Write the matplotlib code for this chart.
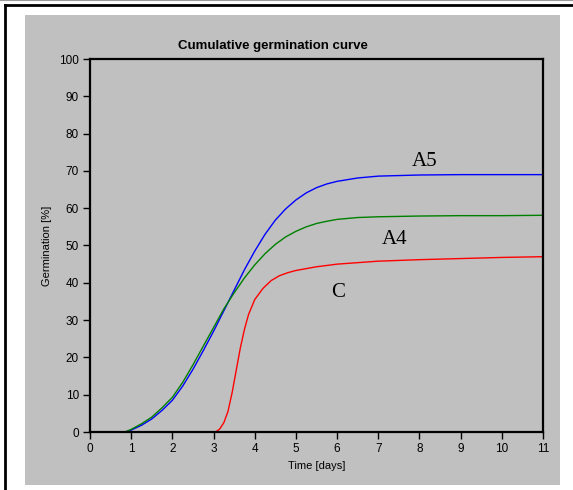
import matplotlib
matplotlib.use("Agg")
import matplotlib.pyplot as plt
from matplotlib.patches import Rectangle
from matplotlib.lines import Line2D

# data
days_a = [0.85, 1.0, 1.25, 1.5, 1.75, 2.0, 2.25, 2.5, 2.75, 3.0, 3.25, 3.5, 3.75, 4.0,
          4.25, 4.5, 4.75, 5.0, 5.25, 5.5, 5.75, 6.0, 6.5, 7.0, 8.0, 9.0, 10.0, 11.0]
a5 = [0, 0.5, 1.8, 3.5, 5.8, 8.5, 12.3, 16.8, 21.8, 27, 32.5, 38, 43.5, 48.5,
      53, 56.8, 59.8, 62.2, 64.1, 65.5, 66.5, 67.2, 68.1, 68.6, 68.9, 69, 69, 69]
a4 = [0, 0.7, 2.2, 4, 6.5, 9.3, 13.3, 18, 23, 28, 33, 37.3, 41.3, 44.8,
      47.8, 50.3, 52.3, 53.8, 55, 55.9, 56.5, 57, 57.5, 57.7, 57.9, 58, 58, 58.1]

days_c = [3.05, 3.15, 3.25, 3.35, 3.45, 3.55, 3.65, 3.75, 3.85, 4.0, 4.2, 4.4, 4.6, 4.8,
          5.0, 5.5, 6.0, 7.0, 8.0, 9.0, 10.0, 11.0]
c = [0, 0.8, 2.5, 5.5, 10.5, 16.5, 22.5, 27.5, 31.5, 35.5, 38.5, 40.6, 41.9, 42.7,
     43.3, 44.3, 45, 45.8, 46.2, 46.5, 46.8, 47]

x_ticks = list(range(0, 12))
y_ticks = list(range(0, 101, 10))

plt.rcParams['font.family'] = ['Liberation Sans', 'DejaVu Sans']

W, H = 573, 490
fig = plt.figure(figsize=(W / 100, H / 100), dpi=100, facecolor='white')

# grey panel and outer frame
fig.patches.append(Rectangle((25 / W, 1 - 485 / H), 535 / W, 470 / H,
                             transform=fig.transFigure, facecolor='#c0c0c0',
                             edgecolor='none', zorder=-10))
fig.lines.append(Line2D([5 / W, 1], [1 - 5 / H, 1 - 5 / H], transform=fig.transFigure,
                        color='black', lw=2))
fig.lines.append(Line2D([5 / W, 5 / W], [0, 1 - 5 / H], transform=fig.transFigure,
                        color='black', lw=2))
fig.lines.append(Line2D([0, 1], [1 - 0.5 / H, 1 - 0.5 / H], transform=fig.transFigure,
                        color='#999999', lw=0.8))

ax = fig.add_axes([90 / W, 1 - 432 / H, 453 / W, 373 / H])
ax.set_facecolor('#c0c0c0')

ax.plot(days_a, a5, color='blue', lw=1)
ax.plot(days_a, a4, color='green', lw=1)
ax.plot(days_c, c, color='red', lw=1)

ax.set_xlim(0, 11)
ax.set_ylim(0, 100)
ax.set_xticks(x_ticks)
ax.set_yticks(y_ticks)
ax.tick_params(direction='out', length=5, width=1, labelsize=8.5, pad=3, colors='black')
for s in ax.spines.values():
    s.set_linewidth(1.6)

ax.set_xlabel("Time [days]", fontsize=8, labelpad=4)
ax.set_ylabel("Germination [%]", fontsize=8, labelpad=5)

fig.text(273 / W, 1 - 46 / H, "Cumulative germination curve", ha='center', va='center',
         fontsize=9.5, fontweight='bold')

ax.text(8.13, 72.4, "A5", fontsize=15, family='Liberation Serif', ha='center', va='center')
ax.text(7.4, 51.5, "A4", fontsize=15, family='Liberation Serif', ha='center', va='center')
ax.text(6.02, 37.5, "C", fontsize=15, family='Liberation Serif', ha='center', va='center')

fig.savefig("out.png", dpi=100, facecolor='white')
